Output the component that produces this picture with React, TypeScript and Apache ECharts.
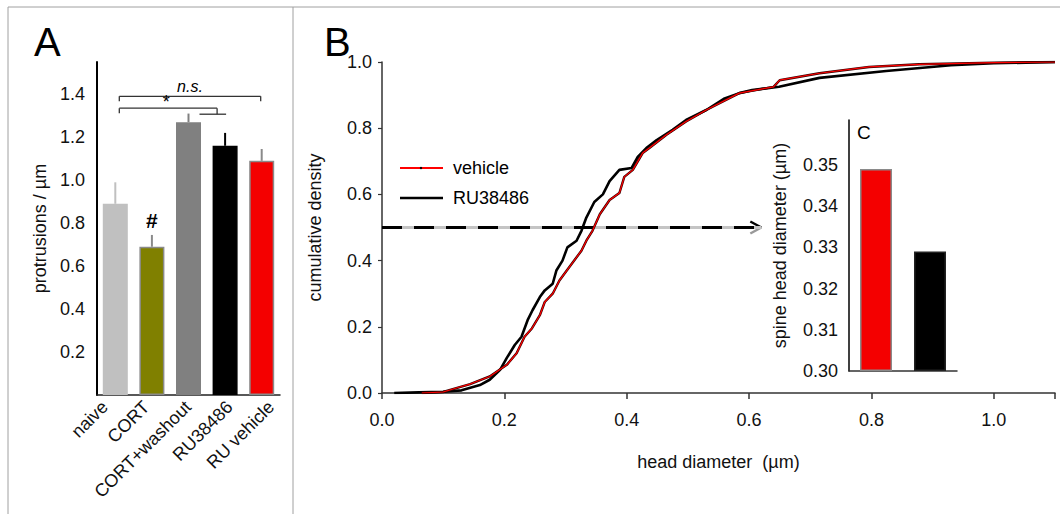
import React, { useEffect, useRef } from 'react';
import * as echarts from 'echarts';

// ---------- Panel A data ----------
const catsA = ['naive', 'CORT', 'CORT+washout', 'RU38486', 'RU vehicle'];
const meansA = [0.89, 0.69, 1.27, 1.16, 1.09];
const errA = [0.1, 0.055, 0.04, 0.06, 0.055];
const colorsA = ['#c0c0c0', '#808000', '#808080', '#000000', '#f40000'];
const errColorsA = ['#c0c0c0', '#8a8a8a', '#808080', '#000000', '#8a8a8a'];
const yTicksA = [0.2, 0.4, 0.6, 0.8, 1.0, 1.2, 1.4];

// ---------- Panel B data (cumulative density) ----------
const vehicleX = [0.065, 0.1, 0.127, 0.144, 0.176, 0.204, 0.22, 0.233, 0.245, 0.258, 0.266, 0.279, 0.29, 0.302, 0.312, 0.326, 0.334, 0.344, 0.356, 0.372, 0.388, 0.396, 0.41, 0.426, 0.437, 0.465, 0.497, 0.53, 0.584, 0.64, 0.65, 0.715, 0.796, 0.878, 1.0, 1.1];
const vehicleY = [0, 0.003, 0.018, 0.027, 0.05, 0.085, 0.12, 0.17, 0.195, 0.235, 0.275, 0.3, 0.34, 0.37, 0.395, 0.43, 0.46, 0.49, 0.54, 0.583, 0.604, 0.653, 0.674, 0.725, 0.74, 0.78, 0.82, 0.855, 0.906, 0.925, 0.945, 0.966, 0.985, 0.993, 0.998, 1.0];
const ruX = [0.02, 0.06, 0.1, 0.13, 0.16, 0.176, 0.193, 0.204, 0.217, 0.228, 0.238, 0.246, 0.258, 0.266, 0.279, 0.285, 0.295, 0.303, 0.318, 0.326, 0.334, 0.347, 0.361, 0.372, 0.388, 0.408, 0.418, 0.432, 0.449, 0.475, 0.497, 0.53, 0.56, 0.584, 0.605, 0.649, 0.715, 0.824, 0.93, 1.0, 1.1];
const ruY = [0, 0.002, 0.004, 0.008, 0.024, 0.04, 0.07, 0.106, 0.145, 0.17, 0.22, 0.25, 0.29, 0.31, 0.33, 0.37, 0.4, 0.44, 0.46, 0.49, 0.53, 0.577, 0.6, 0.64, 0.674, 0.68, 0.713, 0.74, 0.764, 0.795, 0.825, 0.855, 0.89, 0.906, 0.915, 0.925, 0.952, 0.973, 0.99, 0.996, 1.0];
const medianLine = [[0, 0.5], [0.62, 0.5]];

// ---------- Inset C data ----------
const catsC = ['vehicle', 'RU38486'];
const valsC = [0.349, 0.329];
const colorsC = ['#f40000', '#000000'];

const FONT = '"Liberation Sans", Arial, sans-serif';
const TXT = '#111';

function zip(xs: number[], ys: number[]) {
  return xs.map((x, i) => [x, ys[i]]);
}

export default function App() {
  const ref = useRef<HTMLDivElement>(null);

  useEffect(() => {
    const chart = echarts.init(ref.current!, null, { renderer: 'svg' });

    const option: any = {
      animation: false,
      textStyle: { fontFamily: FONT },
      grid: [
        { left: 97, top: 62, width: 183, height: 333 },
        { left: 382, top: 62, width: 673, height: 331 },
        { left: 849, top: 120, width: 108, height: 251 },
        { left: 84, top: 62, width: 208, height: 333 },
      ],
      xAxis: [
        {
          gridIndex: 0,
          type: 'category',
          data: catsA,
          axisLine: { lineStyle: { color: '#222', width: 1.5 } },
          axisTick: { show: false },
          axisLabel: { show: false },
        },
        {
          gridIndex: 1,
          type: 'value',
          min: 0,
          max: 1.1,
          interval: 0.2,
          splitLine: { show: false },
          axisLine: { lineStyle: { color: '#333', width: 1.5 } },
          axisTick: { show: true, length: 6, lineStyle: { color: '#333', width: 1.5 } },
          axisLabel: {
            fontSize: 18,
            color: TXT,
            margin: 18,
            fontFamily: FONT,
            formatter: (v: number) => (v > 1.05 ? '' : v.toFixed(1)),
          },
          name: 'head diameter  (µm)',
          nameLocation: 'middle',
          nameGap: 60,
          nameTextStyle: { fontSize: 18, color: TXT, fontFamily: FONT },
        },
        {
          gridIndex: 2,
          type: 'category',
          data: catsC,
          axisLine: { lineStyle: { color: '#333', width: 1.5 } },
          axisTick: { show: false },
          axisLabel: { show: false },
        },
        {
          gridIndex: 3,
          type: 'category',
          data: catsA,
          axisLine: { show: false },
          axisTick: { show: false },
          axisLabel: { rotate: 45, fontSize: 18, color: TXT, margin: 9, fontFamily: FONT },
        },
      ],
      yAxis: [
        {
          gridIndex: 0,
          type: 'value',
          min: 0,
          max: 1.55,
          interval: 0.2,
          splitLine: { show: false },
          axisLine: { show: true, lineStyle: { color: '#000', width: 2 } },
          axisTick: { show: false },
          axisLabel: {
            fontSize: 18,
            color: TXT,
            margin: 12,
            fontFamily: FONT,
            formatter: (v: number) =>
              yTicksA.some((t) => Math.abs(t - v) < 1e-6) ? v.toFixed(1) : '',
          },
          name: 'protrusions / µm',
          nameLocation: 'middle',
          nameGap: 48,
          nameTextStyle: { fontSize: 18, color: TXT, fontFamily: FONT },
        },
        {
          gridIndex: 1,
          type: 'value',
          min: 0,
          max: 1,
          interval: 0.2,
          splitLine: { show: false },
          axisLine: { show: true, lineStyle: { color: '#333', width: 1.5 } },
          axisTick: { show: true, length: 4, lineStyle: { color: '#333', width: 1.2 } },
          axisLabel: {
            fontSize: 18,
            color: TXT,
            margin: 10,
            fontFamily: FONT,
            formatter: (v: number) => v.toFixed(1),
          },
          name: 'cumulative density',
          nameLocation: 'middle',
          nameGap: 58,
          nameTextStyle: { fontSize: 18, color: TXT, fontFamily: FONT },
        },
        {
          gridIndex: 2,
          type: 'value',
          min: 0.3,
          max: 0.3609,
          interval: 0.01,
          startValue: 0.3,
          splitLine: { show: false },
          axisLine: { show: true, lineStyle: { color: '#000', width: 1.5 } },
          axisTick: { show: false },
          axisLabel: {
            fontSize: 18,
            color: TXT,
            margin: 11,
            fontFamily: FONT,
            formatter: (v: number) => (v > 0.355 ? '' : v.toFixed(2)),
          },
          name: 'spine head diameter (µm)',
          nameLocation: 'middle',
          nameGap: 60,
          nameTextStyle: { fontSize: 18, color: TXT, fontFamily: FONT },
        },
        {
          gridIndex: 3,
          type: 'value',
          show: false,
          min: 0,
          max: 1,
        },
      ],
      series: [
        {
          type: 'bar',
          xAxisIndex: 0,
          yAxisIndex: 0,
          barWidth: 25,
          data: meansA.map((v, i) => ({
            value: v,
            itemStyle: {
              color: colorsA[i],
              borderColor: i === 1 || i === 4 ? '#8a8a8a' : colorsA[i],
              borderWidth: 1.5,
            },
          })),
        },
        {
          type: 'custom',
          xAxisIndex: 0,
          yAxisIndex: 0,
          data: meansA.map((v, i) => [i, v, v + errA[i]]),
          renderItem: (params: any, api: any) => {
            const i = api.value(0);
            const a = api.coord([i, api.value(1)]);
            const b = api.coord([i, api.value(2)]);
            return {
              type: 'line',
              shape: { x1: a[0], y1: a[1], x2: b[0], y2: b[1] },
              style: { stroke: errColorsA[i], lineWidth: 2 },
            };
          },
          z: 1,
        },
        {
          type: 'line',
          xAxisIndex: 1,
          yAxisIndex: 1,
          data: medianLine,
          symbol: 'none',
          lineStyle: { color: '#c4c4c4', width: 3 },
          z: 1,
        },
        {
          type: 'line',
          xAxisIndex: 1,
          yAxisIndex: 1,
          data: medianLine,
          symbol: 'none',
          lineStyle: { color: '#000', width: 3, type: [20, 12] },
          z: 1,
        },
        {
          name: 'RU38486',
          type: 'line',
          xAxisIndex: 1,
          yAxisIndex: 1,
          data: zip(ruX, ruY),
          symbol: 'none',
          lineStyle: { color: '#000', width: 2.6 },
          z: 2,
        },
        {
          type: 'line',
          xAxisIndex: 1,
          yAxisIndex: 1,
          data: zip(vehicleX, vehicleY),
          symbol: 'none',
          lineStyle: { color: '#300', width: 2.4 },
          z: 3,
        },
        {
          name: 'vehicle',
          type: 'line',
          xAxisIndex: 1,
          yAxisIndex: 1,
          data: zip(vehicleX, vehicleY),
          symbol: 'none',
          lineStyle: { color: '#f00', width: 1.2 },
          z: 4,
        },
        {
          type: 'bar',
          xAxisIndex: 2,
          yAxisIndex: 2,
          barWidth: 32,
          clip: true,
          data: valsC.map((v, i) => ({
            value: v,
            itemStyle: {
              color: colorsC[i],
              borderColor: i === 0 ? '#8a8a8a' : '#222',
              borderWidth: 1.5,
            },
          })),
          z: 5,
        },
      ],
    };

    chart.setOption(option);

    const pA = (i: number, v: number) =>
      chart.convertToPixel({ xAxisIndex: 0, yAxisIndex: 0 }, [i, v]) as number[];
    const pB = (x: number, y: number) =>
      chart.convertToPixel({ xAxisIndex: 1, yAxisIndex: 1 }, [x, y]) as number[];

    const c0 = pA(0, 1.39);
    const c2 = pA(2, 1.307);
    const c3 = pA(3, 1.335);
    const c4 = pA(4, 1.39);
    const yNs = c0[1];
    const yStar = c3[1];
    const yLow = c2[1];
    const hashPos = pA(1, meansA[1] + errA[1]);
    const tip = pB(medianLine[1][0], medianLine[1][1]);

    const line = (x1: number, y1: number, x2: number, y2: number, stroke = '#333', w = 1.3) => ({
      type: 'line',
      silent: true,
      shape: { x1, y1, x2, y2 },
      style: { stroke, lineWidth: w },
    });
    const text = (x: number, y: number, t: string, font: any, align = 'left', vAlign = 'top') => ({
      type: 'text',
      silent: true,
      x,
      y,
      style: {
        text: t,
        fill: '#000',
        fontFamily: FONT,
        align,
        verticalAlign: vAlign,
        ...font,
      },
    });

    const left = c0[0] + 4;
    const right = c4[0] - 1;
    const starRight = c3[0] - 8;

    chart.setOption({
      graphic: [
        // frame
        line(8, 7, 1060, 7, '#a0a0a0', 1),
        line(8, 7, 8, 514, '#a0a0a0', 1),
        line(293, 7, 293, 514, '#a0a0a0', 1),
        // panel letters
        text(34, 22, 'A', { fontSize: 40 }),
        text(324, 22, 'B', { fontSize: 40 }),
        text(857, 123, 'C', { fontSize: 19 }),
        // n.s. bracket
        line(left, yNs + 5, left, yNs),
        line(left, yNs, right, yNs),
        line(right, yNs, right, yNs + 5),
        text((left + right) / 2, yNs - 2, 'n.s.', { fontSize: 16, fontStyle: 'italic' }, 'center', 'bottom'),
        // * bracket
        line(left, yStar + 5, left, yStar),
        line(left, yStar, starRight, yStar),
        line(starRight, yStar, starRight, yLow),
        line(c2[0] + 11, yLow, c3[0] + 1, yLow),
        text((left + starRight) / 2 - 2, yStar + 3, '*', { fontSize: 18 }, 'center', 'bottom'),
        // # above CORT
        text(hashPos[0], hashPos[1] - 4, '#', { fontSize: 21, fontWeight: 'bold' }, 'center', 'bottom'),
        // arrow head
        {
          type: 'polyline',
          silent: true,
          shape: { points: [[tip[0] - 11, tip[1] - 6], [tip[0], tip[1]]] },
          style: { stroke: '#000', lineWidth: 2.5, fill: 'none' },
        },
        {
          type: 'polyline',
          silent: true,
          shape: { points: [[tip[0], tip[1]], [tip[0] - 11, tip[1] + 6]] },
          style: { stroke: '#999', lineWidth: 2.5, fill: 'none' },
        },
        // legend
        line(400, 168, 443, 168, '#f00', 2.2),
        { type: 'circle', silent: true, shape: { cx: 421, cy: 168, r: 1.2 }, style: { fill: '#000' } },
        text(453, 168, 'vehicle', { fontSize: 18 }, 'left', 'middle'),
        line(400, 198, 443, 198, '#000', 2.6),
        text(453, 198, 'RU38486', { fontSize: 18 }, 'left', 'middle'),
      ],
    });

    return () => chart.dispose();
  }, []);

  return (
    <div
      ref={ref}
      style={{ position: 'fixed', left: 0, top: 0, width: 1060, height: 514, background: '#fff' }}
    />
  );
}
